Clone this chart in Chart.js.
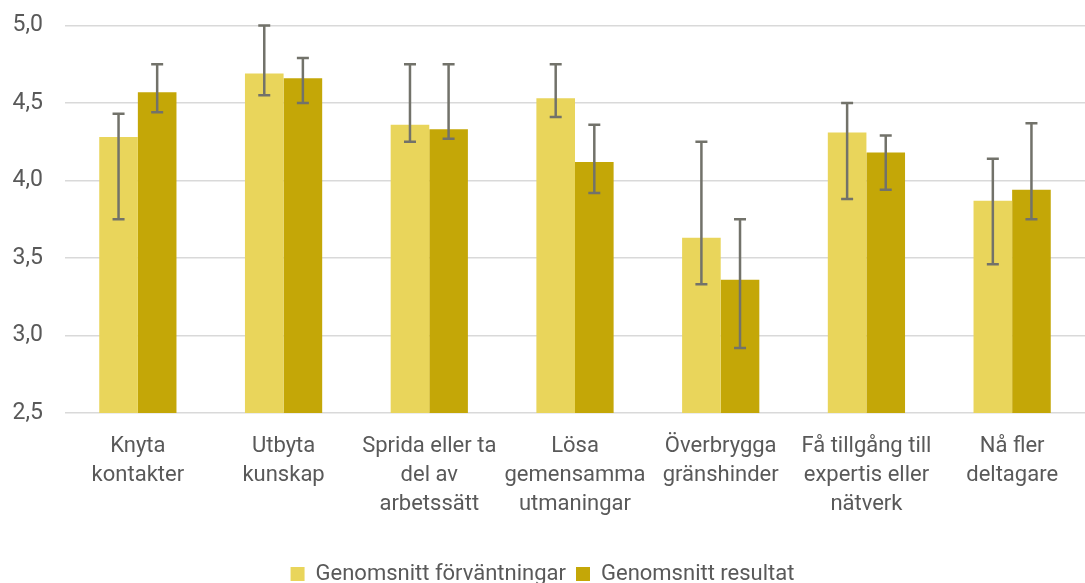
<!DOCTYPE html>
<html>
<head>
<meta charset="utf-8">
<script src="https://cdn.jsdelivr.net/npm/chart.js@4"></script>
<style>
html,body{margin:0;padding:0;background:#fff;overflow:hidden;}
#outer{width:1085px;height:583px;overflow:hidden;position:relative;}
#wrap{width:1085px;height:595px;position:relative;}
</style>
</head>
<body>
<div id="outer"><div id="wrap"><canvas id="c"></canvas></div></div>
<script>
const categories = [
  ["Knyta", "kontakter"],
  ["Utbyta", "kunskap"],
  ["Sprida eller ta", "del av", "arbetssätt"],
  ["Lösa", "gemensamma", "utmaningar"],
  ["Överbrygga", "gränshinder"],
  ["Få tillgång till", "expertis eller", "nätverk"],
  ["Nå fler", "deltagare"]
];
const seriesNames = ["Genomsnitt förväntningar", "Genomsnitt resultat"];
const expectations = [4.28, 4.69, 4.36, 4.53, 3.63, 4.31, 3.87];
const expectationsHigh = [4.43, 5.00, 4.75, 4.75, 4.25, 4.50, 4.14];
const expectationsLow = [3.75, 4.55, 4.25, 4.41, 3.33, 3.88, 3.46];
const results = [4.57, 4.66, 4.33, 4.12, 3.36, 4.18, 3.94];
const resultsHigh = [4.75, 4.79, 4.75, 4.36, 3.75, 4.29, 4.37];
const resultsLow = [4.44, 4.50, 4.27, 3.92, 2.92, 3.94, 3.75];
const yTicks = [2.5, 3.0, 3.5, 4.0, 4.5, 5.0];

const FONT = "'Roboto', sans-serif";
const TEXT = "#595959";

const errorBars = {
  id: "errorBars",
  afterDatasetsDraw(chart) {
    const ctx = chart.ctx;
    const y = chart.scales.y;
    chart.data.datasets.forEach((ds, i) => {
      const meta = chart.getDatasetMeta(i);
      meta.data.forEach((bar, j) => {
        const hi = y.getPixelForValue(ds.errHigh[j]);
        const lo = y.getPixelForValue(ds.errLow[j]);
        const x = bar.x;
        ctx.save();
        ctx.strokeStyle = "#72726a";
        ctx.lineWidth = 2.5;
        ctx.beginPath();
        ctx.moveTo(x, hi); ctx.lineTo(x, lo);
        ctx.moveTo(x - 6, hi); ctx.lineTo(x + 6, hi);
        ctx.moveTo(x - 6, lo); ctx.lineTo(x + 6, lo);
        ctx.stroke();
        ctx.restore();
      });
    });
  }
};

new Chart(document.getElementById("c"), {
  type: "bar",
  data: {
    labels: categories,
    datasets: [
      { label: seriesNames[0], data: expectations, errHigh: expectationsHigh, errLow: expectationsLow,
        backgroundColor: "#E9D55B", borderWidth: 0 },
      { label: seriesNames[1], data: results, errHigh: resultsHigh, errLow: resultsLow,
        backgroundColor: "#C4A707", borderWidth: 0 }
    ]
  },
  plugins: [errorBars],
  options: {
    responsive: true,
    maintainAspectRatio: false,
    animation: false,
    layout: { padding: { top: 25.5, right: 0, left: 0, bottom: 0 } },
    datasets: { bar: { categoryPercentage: 0.53, barPercentage: 1.0 } },
    scales: {
      x: {
        grid: { display: false, drawTicks: false },
        border: { display: false },
        afterFit(scale) { scale.height = 140; },
        ticks: { color: TEXT, font: { family: FONT, size: 22, lineHeight: 1.318 }, padding: 19, maxRotation: 0, autoSkip: false }
      },
      y: {
        min: 2.5, max: 5.0,
        afterBuildTicks(scale) { scale.ticks = yTicks.map(v => ({ value: v })); },
        afterFit(scale) { scale.width = 65; scale.paddingTop = 0; scale.paddingBottom = 0; },
        grid: { color: "#D9D9D9", lineWidth: 1.5, drawTicks: false },
        border: { display: false },
        ticks: {
          color: TEXT, font: { family: FONT, size: 23 }, padding: 22,
          callback: v => v.toFixed(1).replace(".", ",")
        }
      }
    },
    plugins: {
      legend: {
        position: "bottom",
        labels: { color: TEXT, font: { family: FONT, size: 22 }, boxWidth: 14, boxHeight: 14, padding: 10 }
      },
      tooltip: { enabled: false }
    }
  }
});
</script>
</body>
</html>
